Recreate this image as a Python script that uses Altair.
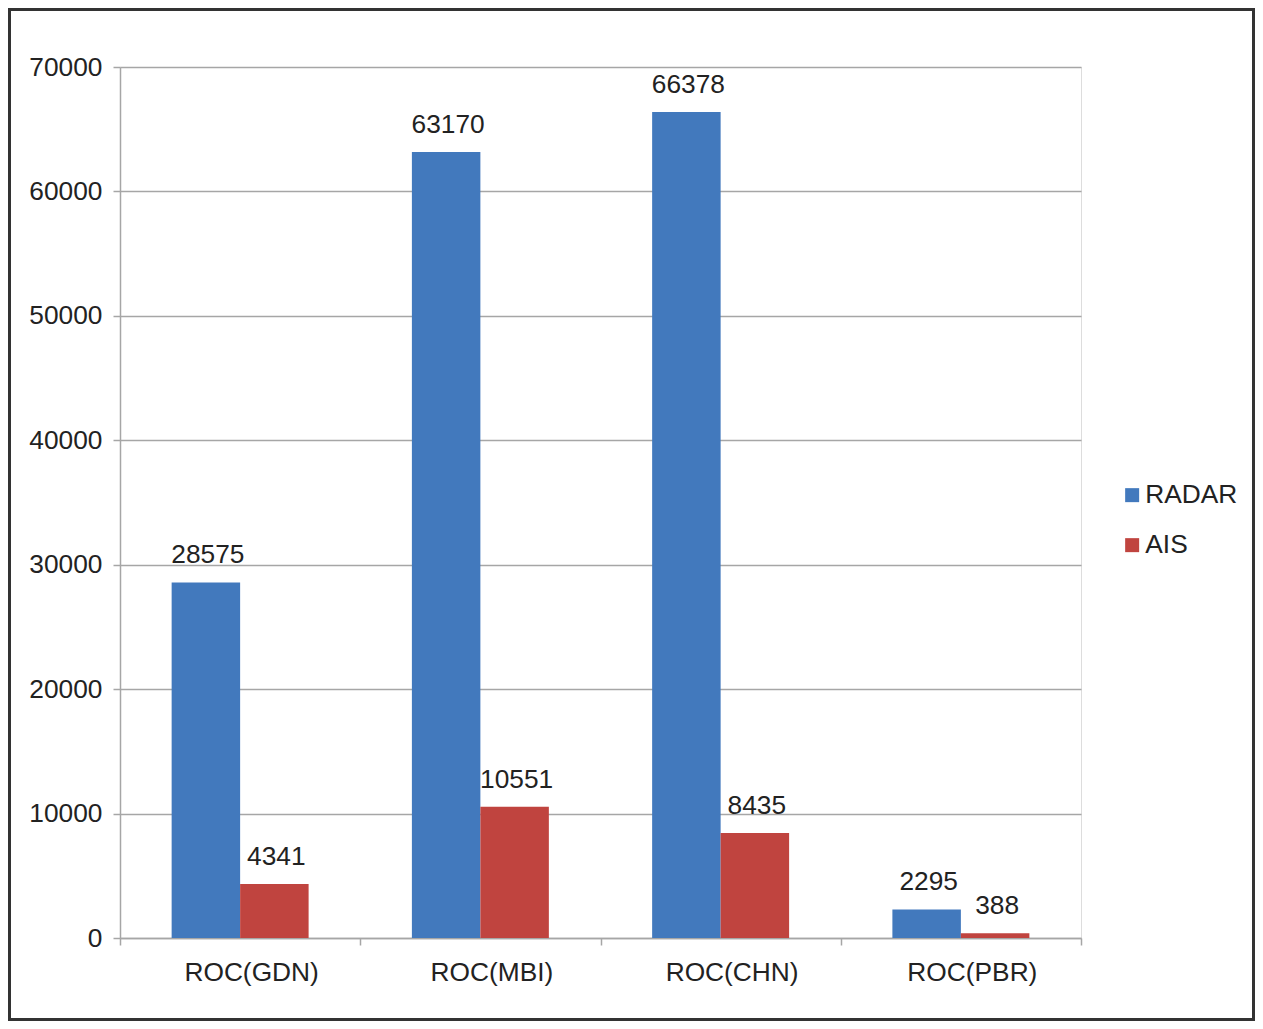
import altair as alt
import pandas as pd

categories = ["ROC(GDN)", "ROC(MBI)", "ROC(CHN)", "ROC(PBR)"]
radar = [28575, 63170, 66378, 2295]
ais = [4341, 10551, 8435, 388]
series = ["RADAR", "AIS"]
colors = ["#4279BD", "#C0443F"]

rows = []
for c, r, a in zip(categories, radar, ais):
    rows.append({"cat": c, "series": "RADAR", "value": r})
    rows.append({"cat": c, "series": "AIS", "value": a})
df = pd.DataFrame(rows)

FONT = "Liberation Sans"
FS = 26.3
W, H = 961, 871

x = alt.X("cat:N", sort=categories, title=None,
          scale=alt.Scale(paddingInner=0, paddingOuter=0),
          axis=alt.Axis(labelAngle=0, tickBand="extent", tickSize=7, labelPadding=14,
                        labelOffset=11,
                        labelFontSize=FS, labelFont=FONT, labelColor="#222222",
                        domainColor="#a6a6a6", tickColor="#a6a6a6", domainWidth=1.5,
                        tickWidth=1.5, grid=False))
y = alt.Y("value:Q", title=None,
          scale=alt.Scale(domain=[0, 70000], nice=False),
          axis=alt.Axis(values=list(range(0, 70001, 10000)), format="d", tickSize=7,
                        labelPadding=11, labelFontSize=FS, labelFont=FONT,
                        labelColor="#222222", domainColor="#a6a6a6", tickColor="#a6a6a6",
                        gridColor="#a6a6a6", gridWidth=1.5, domainWidth=1.5, tickWidth=1.5))
xo = alt.XOffset("series:N", sort=series,
                 scale=alt.Scale(paddingInner=0, paddingOuter=0.754))
color = alt.Color("series:N", sort=series, scale=alt.Scale(domain=series, range=colors),
                  legend=alt.Legend(title=None, orient="none", legendX=999, legendY=415,
                                    symbolType="square", symbolSize=196, symbolStrokeWidth=0,
                                    labelFontSize=FS, labelFont=FONT, labelColor="#222222",
                                    rowPadding=23, labelOffset=0, symbolOpacity=1))

bars = alt.Chart(df).mark_bar(opacity=1).encode(x=x, y=y, xOffset=xo, color=color)
labels = alt.Chart(df).mark_text(baseline="bottom", dy=-13, dx=2, fontSize=FS, font=FONT,
                                 color="#222222").encode(
    x=alt.X("cat:N", sort=categories), y="value:Q", xOffset=xo, text="value:Q")

frame = alt.Chart(pd.DataFrame({"a": [0]})).mark_rect(
    fill=None, stroke="#333333", strokeWidth=3).encode(
    x=alt.value(-110.5), x2=alt.value(W + 172.5), y=alt.value(-57.5), y2=alt.value(H + 81.5))

chart = alt.layer(bars, labels, frame).properties(
    width=W, height=H,
    autosize=alt.AutoSizeParams(type="none"),
    padding={"left": 112, "top": 59, "right": 174, "bottom": 83},
).configure_view(stroke=None).configure(background="white")

chart.save("out.html", embed_options={"renderer": "svg", "actions": False})
